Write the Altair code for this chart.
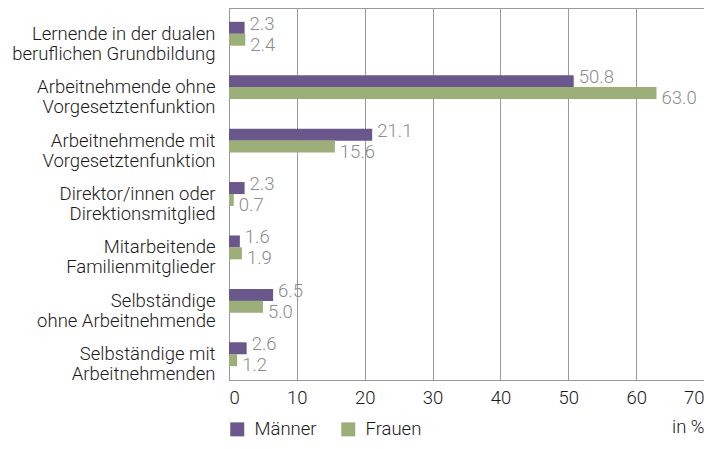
import altair as alt
import pandas as pd

categories = [
    "Lernende in der dualen|beruflichen Grundbildung",
    "Arbeitnehmende ohne|Vorgesetztenfunktion",
    "Arbeitnehmende mit|Vorgesetztenfunktion",
    "Direktor/innen oder|Direktionsmitglied",
    "Mitarbeitende|Familienmitglieder",
    "Selbständige|ohne Arbeitnehmende",
    "Selbständige mit|Arbeitnehmenden",
]
maenner = [2.3, 50.8, 21.1, 2.3, 1.6, 6.5, 2.6]
frauen = [2.4, 63.0, 15.6, 0.7, 1.9, 5.0, 1.2]
series = ["Männer", "Frauen"]
colors = ["#6a578c", "#9daf78"]
x_ticks = [0, 10, 20, 30, 40, 50, 60, 70]

rows = []
for c, m, f in zip(categories, maenner, frauen):
    rows.append({"cat": c, "Geschlecht": series[0], "v": m})
    rows.append({"cat": c, "Geschlecht": series[1], "v": f})
df = pd.DataFrame(rows)

FONT = "Roboto"
FS = 18.5
W = 475
H = 372

y_enc = alt.Y("cat:N", sort=categories, title=None,
              scale=alt.Scale(paddingInner=0.555, paddingOuter=0.26),
              axis=alt.Axis(labelExpr="split(datum.label, '|')", labelFontSize=FS,
                            labelLineHeight=20, labelColor="#1a1a1a", labelFont=FONT,
                            labelFontWeight=300,
                            ticks=False, labelPadding=14, domainColor="#999999",
                            labelLimit=300))
yoff = alt.YOffset("Geschlecht:N", sort=series, scale=alt.Scale(paddingInner=0, paddingOuter=0))
x_enc = alt.X("v:Q", scale=alt.Scale(domain=[0, 70], nice=False),
              axis=alt.Axis(values=x_ticks, title="in %", labelFontSize=FS, labelFont=FONT,
                            labelFontWeight=300, labelColor="#1a1a1a", labelFlush=True,
                            ticks=False, labelPadding=8, gridColor="#999999",
                            domainColor="#999999",
                            titleFontSize=FS, titleFont=FONT, titleFontWeight=300,
                            titleColor="#1a1a1a", titleAlign="right", titleAnchor="end",
                            titleX=W, titleY=52, titleBaseline="alphabetic"))

bars = alt.Chart(df).mark_bar(size=12).encode(
    y=y_enc, yOffset=yoff, x=x_enc,
    color=alt.Color("Geschlecht:N", sort=series,
                    scale=alt.Scale(domain=series, range=colors),
                    legend=alt.Legend(orient="none", legendX=-1, legendY=H + 40,
                                      direction="horizontal", title=None,
                                      symbolType="square", symbolSize=196,
                                      symbolStrokeWidth=0, symbolOpacity=1,
                                      labelFontSize=FS, labelFont=FONT,
                                      labelFontWeight=300,
                                      labelColor="#1a1a1a", columnPadding=22,
                                      labelOffset=8, padding=0)),
)

lab_m = alt.Chart(df).transform_filter(alt.datum.Geschlecht == "Männer").mark_text(
    align="left", baseline="middle", dx=5, dy=-4, fontSize=FS, font=FONT,
    fontWeight=300, color="#8c8c8c"
).encode(y=y_enc, yOffset=yoff, x=x_enc, text=alt.Text("v:Q", format=".1f"))

lab_f = alt.Chart(df).transform_filter(alt.datum.Geschlecht == "Frauen").mark_text(
    align="left", baseline="middle", dx=5, dy=5, fontSize=FS, font=FONT,
    fontWeight=300, color="#8c8c8c"
).encode(y=y_enc, yOffset=yoff, x=x_enc, text=alt.Text("v:Q", format=".1f"))

chart = alt.layer(bars, lab_m, lab_f).properties(
    width=W, height=H,
    autosize=alt.AutoSizeParams(type="none"),
    padding={"left": 221, "top": 0, "right": 0, "bottom": 61},
).configure_view(stroke="#999999", strokeWidth=1).configure_axis(gridWidth=1)

chart.save("out.html", embed_options={"renderer": "svg", "actions": False})
